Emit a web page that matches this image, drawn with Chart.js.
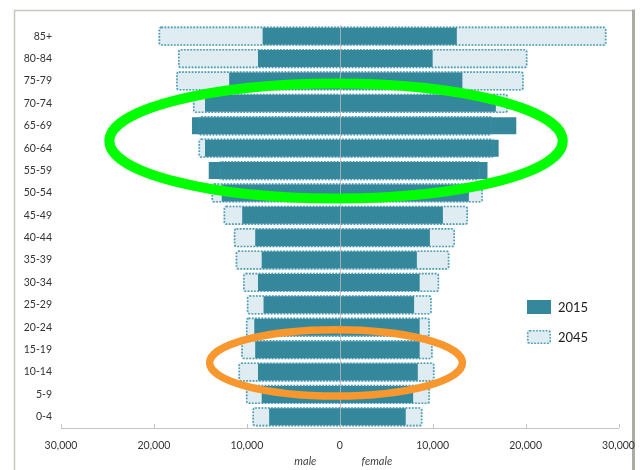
<!DOCTYPE html>
<html>
<head>
<meta charset="utf-8">
<script src="https://cdn.jsdelivr.net/npm/chart.js@4.4.1/dist/chart.umd.min.js"></script>
<style>
  html, body { margin: 0; padding: 0; background: #fff; }
  canvas { display: block; }
</style>
</head>
<body>
<canvas id="pyramid" width="644" height="470"></canvas>
<script>
// age bands, oldest at the top
const ageGroups = ['85+', '80-84', '75-79', '70-74', '65-69', '60-64', '55-59', '50-54', '45-49',
  '40-44', '35-39', '30-34', '25-29', '20-24', '15-19', '10-14', '5-9', '0-4'];

const male2015   = [8300, 8800, 11900, 14500, 15900, 14500, 14100, 12700, 10500, 9100, 8400, 8800, 8200, 9200, 9100, 8800, 8400, 7600];
const female2015 = [12600, 10000, 13200, 16800, 19000, 17100, 15900, 13900, 11100, 9700, 8300, 8600, 8000, 8600, 8600, 8400, 7900, 7100];
const male2045   = [19500, 17400, 17600, 15800, 15200, 15200, 13000, 13800, 12500, 11400, 11200, 10400, 10000, 10100, 10600, 10900, 10100, 9400];
const female2045 = [28700, 20200, 19800, 18100, 16400, 16600, 15100, 15400, 13800, 12400, 11800, 10700, 9900, 9700, 10000, 10200, 9700, 8900];

const xTicks = [-30000, -20000, -10000, 0, 10000, 20000, 30000];

const TEAL = '#35879c';
const PALE = '#dfedf2';
const DOTS = '#4f9db5';

// rings drawn over the bars (x in people, y in age-band index)
const highlights = [
  { color: '#00ff00', lineWidth: 10, x: -400, rx: 24400, row: 4.68, ry: 2.57 },
  { color: '#f7972e', lineWidth: 7.5, x: -400, rx: 13600, row: 14.59, ry: 1.48 }
];

Chart.defaults.font.family = 'Lato, "Liberation Sans", sans-serif';

// male to the left of zero, female to the right
const span = (m, f) => m.map((v, i) => [-v, f[i]]);

function dottedBoxes(chart, meta, alpha) {
  const ctx = chart.ctx;
  ctx.save();
  ctx.globalAlpha = alpha;
  ctx.strokeStyle = DOTS;
  ctx.lineWidth = 1.6;
  ctx.setLineDash([1.6, 1.6]);
  meta.data.forEach(bar => {
    const { x, y, base, height } = bar.getProps(['x', 'y', 'base', 'height'], true);
    const l = Math.min(x, base) + 0.8, r = Math.max(x, base) - 0.8;
    const t = y - height / 2 + 0.8, h = height - 1.6;
    ctx.beginPath();
    ctx.roundRect(l, t, r - l, h, 2);
    ctx.stroke();
  });
  ctx.restore();
}

const extras = {
  id: 'pyramidExtras',
  beforeDraw(chart) {
    const ctx = chart.ctx;
    ctx.save();
    // picture frame
    ctx.strokeStyle = '#c6c6be';
    ctx.lineWidth = 1.5;
    ctx.beginPath();
    ctx.moveTo(14.5, 470);
    ctx.lineTo(14.5, 10.5);
    ctx.lineTo(632, 10.5);
    ctx.stroke();
    ctx.strokeStyle = '#acaca4';
    ctx.lineWidth = 3;
    ctx.beginPath();
    ctx.moveTo(633.5, 9.5);
    ctx.lineTo(633.5, 470);
    ctx.stroke();
    ctx.restore();
  },
  afterDatasetDraw(chart, args) {
    if (args.index === 1) dottedBoxes(chart, args.meta, 1);
  },
  afterDatasetsDraw(chart) {
    const { ctx, chartArea, scales: { x, y } } = chart;
    dottedBoxes(chart, chart.getDatasetMeta(1), 0.35);

    // zero line
    const x0 = Math.round(x.getPixelForValue(0)) + 0.5;
    ctx.save();
    ctx.strokeStyle = 'rgba(185,185,185,0.8)';
    ctx.lineWidth = 1;
    ctx.beginPath();
    ctx.moveTo(x0, chartArea.top);
    ctx.lineTo(x0, chartArea.bottom);
    ctx.stroke();

    // small tick marks standing on the axis line
    ctx.strokeStyle = '#c4c4c4';
    xTicks.forEach(v => {
      const px = Math.round(x.getPixelForValue(v)) + 0.5;
      ctx.beginPath();
      ctx.moveTo(px, chartArea.bottom);
      ctx.lineTo(px, chartArea.bottom - 4);
      ctx.stroke();
    });

    // rings
    highlights.forEach(h => {
      const cx = x.getPixelForValue(h.x);
      const rx = x.getPixelForValue(h.rx) - x.getPixelForValue(0);
      const cy = y.getPixelForValue(h.row);
      const ry = y.getPixelForValue(h.row + h.ry) - cy;
      ctx.strokeStyle = h.color;
      ctx.lineWidth = h.lineWidth;
      ctx.beginPath();
      ctx.ellipse(cx, cy, rx, ry, 0, 0, Math.PI * 2);
      ctx.stroke();
    });
    ctx.restore();
  },
  afterDraw(chart) {
    const { ctx, scales: { x } } = chart;
    ctx.save();
    // side captions under the axis
    ctx.fillStyle = '#444';
    ctx.font = 'italic 11px Lato, sans-serif';
    ctx.textAlign = 'center';
    ctx.textBaseline = 'middle';
    ctx.fillText('male', x.getPixelForValue(-3700), 461);
    ctx.fillText('female', x.getPixelForValue(4000), 461);

    // legend
    const items = chart.data.datasets;
    const rows = [307, 337];
    ctx.font = '13px Lato, sans-serif';
    ctx.textAlign = 'left';
    items.forEach((ds, i) => {
      const top = rows[i] - 7;
      ctx.fillStyle = ds.backgroundColor;
      ctx.fillRect(527, top, 24, 14);
      if (i === 1) {
        ctx.strokeStyle = DOTS;
        ctx.lineWidth = 1.6;
        ctx.setLineDash([1.6, 1.6]);
        ctx.beginPath();
        ctx.roundRect(527.8, top + 0.8, 22.4, 12.4, 2);
        ctx.stroke();
        ctx.setLineDash([]);
      }
      ctx.fillStyle = '#1e1e1e';
      ctx.fillText(ds.label, 558, rows[i] + 1);
    });
    ctx.restore();
  }
};

new Chart(document.getElementById('pyramid'), {
  type: 'bar',
  data: {
    labels: ageGroups,
    datasets: [
      {
        label: '2015',
        data: span(male2015, female2015),
        backgroundColor: TEAL,
        borderWidth: 0,
        grouped: false,
        barPercentage: 0.76,
        categoryPercentage: 1
      },
      {
        label: '2045',
        data: span(male2045, female2045),
        backgroundColor: PALE,
        borderWidth: 0,
        grouped: false,
        barPercentage: 0.86,
        categoryPercentage: 1
      }
    ]
  },
  options: {
    indexAxis: 'y',
    responsive: false,
    animation: false,
    devicePixelRatio: 1,
    layout: { padding: { top: 25, right: 25.5, bottom: 0, left: 0 } },
    plugins: {
      legend: { display: false },
      tooltip: { enabled: false }
    },
    scales: {
      x: {
        min: -30000,
        max: 30000,
        afterBuildTicks: scale => { scale.ticks = xTicks.map(v => ({ value: v })); },
        afterFit: scale => {
          scale.height = 42;
          scale.paddingLeft = 0;
          scale.paddingRight = 0;
        },
        grid: { display: false, drawTicks: false },
        border: { display: true, color: '#c4c4c4', width: 1 },
        ticks: {
          padding: 11,
          color: '#333',
          font: { size: 10.5 },
          maxRotation: 0,
          callback: v => Math.abs(v).toLocaleString('en-US')
        }
      },
      y: {
        afterFit: scale => {
          scale.width = 61;
          scale.paddingTop = 0;
          scale.paddingBottom = 0;
        },
        grid: { display: false, drawTicks: false },
        border: { display: false },
        ticks: {
          padding: 9,
          color: '#333',
          font: { size: 10.5 }
        }
      }
    }
  },
  plugins: [extras]
});
</script>
</body>
</html>
